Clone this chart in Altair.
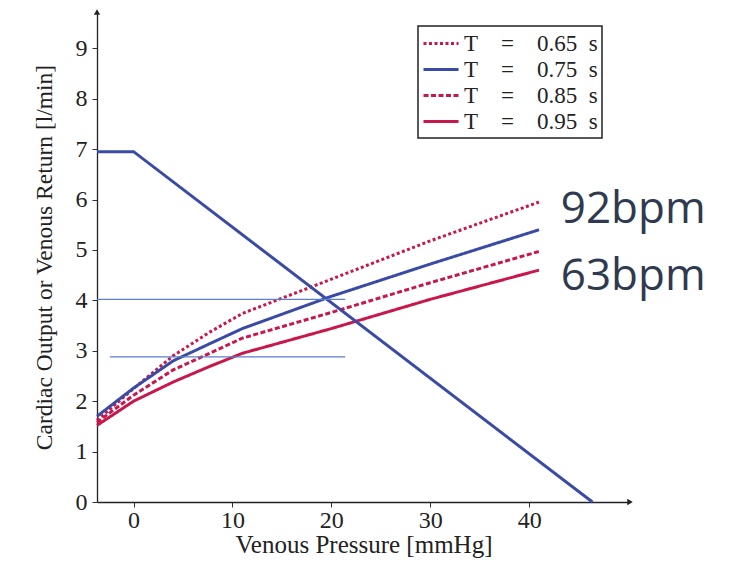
import altair as alt
import pandas as pd

# ---- data ----
pressure = [-3.7, 0, 4, 7.7, 11, 20, 30, 41]
co_065 = [1.62, 2.25, 2.90, 3.37, 3.74, 4.42, 5.18, 5.95]
co_075 = [1.70, 2.26, 2.80, 3.14, 3.44, 4.08, 4.72, 5.40]
co_085 = [1.58, 2.12, 2.62, 2.95, 3.25, 3.76, 4.35, 4.97]
co_095 = [1.52, 2.00, 2.38, 2.69, 2.95, 3.44, 4.02, 4.60]
series_labels = ["T\u2003=\u20030.65\u2002s", "T\u2003=\u20030.75\u2002s",
                 "T\u2003=\u20030.85\u2002s", "T\u2003=\u20030.95\u2002s"]

vr_pressure = [-3.7, 0, 46.4]
vr_values = [6.95, 6.95, 0.0]

hline_y = [4.02, 2.88]
hline_x0 = [-3.7, -2.4]
hline_x1 = [21.4, 21.4]

bpm_text = ["92bpm", "63bpm"]
bpm_x = [43.2, 43.2]
bpm_y = [5.54, 4.21]

x_ticks = [0, 10, 20, 30, 40]
y_ticks = [0, 1, 2, 3, 4, 5, 6, 7, 8, 9]
x_dom = [-3.7, 50.2]
y_dom = [0, 9.72]

RED = "#C8174A"
BLUE = "#3A4BA6"
SERIF = "Liberation Serif"

rows = []
for lab, vals in zip(series_labels, [co_065, co_075, co_085, co_095]):
    for i, (p, v) in enumerate(zip(pressure, vals)):
        rows.append({"series": lab, "p": p, "v": v, "o": i})
co_df = pd.DataFrame(rows)
vr_df = pd.DataFrame({"p": vr_pressure, "v": vr_values})
hl_df = pd.DataFrame({"y": hline_y, "x0": hline_x0, "x1": hline_x1})
txt_df = pd.DataFrame({"t": bpm_text, "x": bpm_x, "y": bpm_y})
arrow_df = pd.DataFrame({"x": [x_dom[1], x_dom[0]], "y": [y_dom[0], y_dom[1]],
                         "shape": ["triangle-right", "triangle-up"]})

xs = alt.Scale(domain=x_dom, nice=False, zero=False)
ys = alt.Scale(domain=y_dom, nice=False, zero=False)

x_axis = alt.Axis(values=x_ticks, title="Venous Pressure [mmHg]", grid=False,
                  labelFont=SERIF, labelFontSize=24, titleFont=SERIF, titleFontSize=25,
                  titleFontWeight="normal", labelColor="#222", titleColor="#222",
                  domainColor="#222", domainWidth=1.3, tickColor="#333", tickSize=5,
                  labelPadding=1, titlePadding=0, labelFlush=False)
y_axis = alt.Axis(values=y_ticks, title="Cardiac Output or Venous Return [l/min]", grid=False,
                  labelFont=SERIF, labelFontSize=24, titleFont=SERIF, titleFontSize=23.5,
                  titleFontWeight="normal", labelColor="#222", titleColor="#222",
                  domainColor="#222", domainWidth=1.3, tickColor="#333", tickSize=5,
                  labelPadding=5, titlePadding=19, labelFlush=False)

co = alt.Chart(co_df).mark_line(strokeWidth=3, strokeCap="butt").encode(
    x=alt.X("p:Q", scale=xs, axis=x_axis),
    y=alt.Y("v:Q", scale=ys, axis=y_axis),
    order="o:Q",
    color=alt.Color("series:N", scale=alt.Scale(domain=series_labels, range=[RED, BLUE, RED, RED]),
                    legend=alt.Legend(title=None)),
    strokeDash=alt.StrokeDash("series:N",
                              scale=alt.Scale(domain=series_labels,
                                              range=[[3, 2.5], [1, 0], [5, 2.5], [1, 0]]),
                              legend=alt.Legend(title=None)),
)

vr = alt.Chart(vr_df).mark_line(strokeWidth=3, color=BLUE).encode(
    x=alt.X("p:Q", scale=xs), y=alt.Y("v:Q", scale=ys))

hl = alt.Chart(hl_df).mark_rule(color="#5B7FCB", strokeWidth=1.3).encode(
    x=alt.X("x0:Q", scale=xs), x2="x1:Q", y=alt.Y("y:Q", scale=ys))

txt = alt.Chart(txt_df).mark_text(align="left", baseline="alphabetic", font="Open Sans",
                                  fontSize=44, color="#2F3A4F").encode(
    x=alt.X("x:Q", scale=xs), y=alt.Y("y:Q", scale=ys), text="t:N")

arrows = alt.Chart(arrow_df).mark_point(filled=True, color="#222", size=40, opacity=1).encode(
    x=alt.X("x:Q", scale=xs), y=alt.Y("y:Q", scale=ys),
    shape=alt.Shape("shape:N", scale=None))

chart = alt.layer(co, vr, hl, txt, arrows).properties(
    width=533, height=490,
    autosize=alt.AutoSizeParams(type="none"),
    padding={"left": 97, "top": 12, "right": 104, "bottom": 61},
    background="white",
).configure_view(stroke=None).configure_legend(
    orient="none", legendX=321, legendY=14,
    strokeColor="#222", strokeWidth=1.5, padding=4, fillColor="white",
    labelFont=SERIF, labelFontSize=23, labelColor="#222", labelLimit=400,
    symbolType="M-1,0H1.92", symbolSize=576, symbolStrokeWidth=3,
    rowPadding=-1, labelOffset=15,
)

chart.save("out.html", embed_options={"renderer": "svg", "actions": False})
